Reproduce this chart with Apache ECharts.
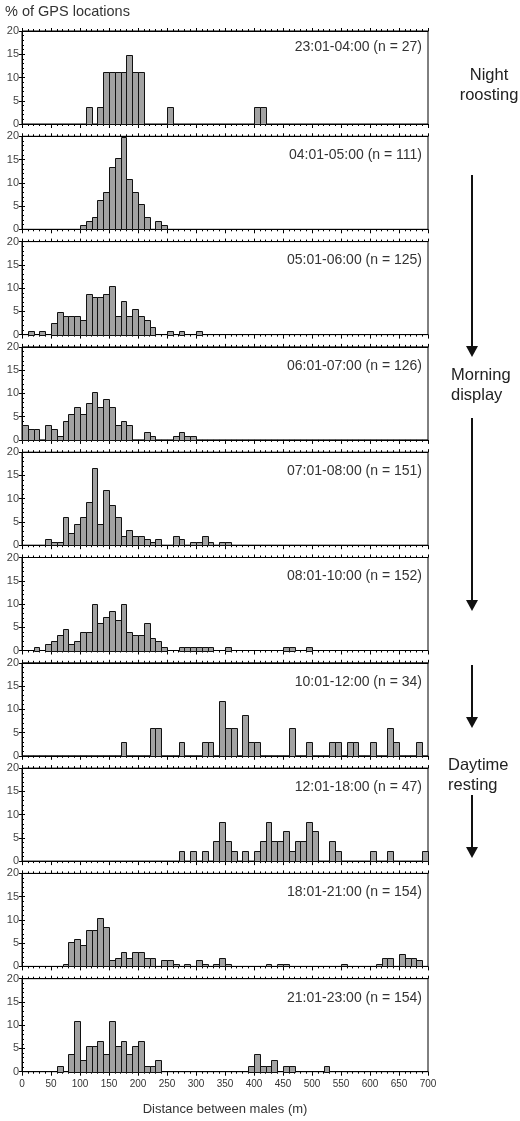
<!DOCTYPE html>
<html lang="en">
<head>
  <meta charset="UTF-8">
  <title>Distance between males</title>
  <script type="text/javascript" src="https://fastly.jsdelivr.net/npm/echarts@6.0.0/dist/echarts.min.js"></script>
  <style>
    html, body, #container {
      width: 100%;
      height: 100%;
      margin: 0;
      padding: 0;
      overflow: hidden;
      background: #fff;
    }
  </style>
</head>
<body>
  <div id="container"></div>

  <script type="text/javascript">

    // histogram bins are 10 m wide, 0..700 m (70 bins), values in % of GPS locations
    var binWidth = 10;

    var panelLabels = [
      '23:01-04:00 (n = 27)',
      '04:01-05:00 (n = 111)',
      '05:01-06:00 (n = 125)',
      '06:01-07:00 (n = 126)',
      '07:01-08:00 (n = 151)',
      '08:01-10:00 (n = 152)',
      '10:01-12:00 (n = 34)',
      '12:01-18:00 (n = 47)',
      '18:01-21:00 (n = 154)',
      '21:01-23:00 (n = 154)'
    ];

    var h2301 = [0,0,0,0,0,0,0,0,0,0, 0,3.7,0,3.7,11.1,11.1,11.1,11.1,14.8,11.1, 11.1,0,0,0,0,3.7,0,0,0,0, 0,0,0,0,0,
                 0,0,0,0,0, 3.7,3.7,0,0,0,0,0,0,0,0, 0,0,0,0,0,0,0,0,0,0, 0,0,0,0,0,0,0,0,0,0];
    var h0401 = [0,0,0,0,0,0,0,0,0,0, 0.9,1.8,2.7,6.3,8.1,13.5,15.3,19.8,10.8,8.1, 5.4,2.7,0,1.8,0.9,0,0,0,0,0, 0,0,0,0,0,
                 0,0,0,0,0, 0,0,0,0,0,0,0,0,0,0, 0,0,0,0,0,0,0,0,0,0, 0,0,0,0,0,0,0,0,0,0];
    var h0501 = [0,0.8,0,0.8,0,2.4,4.8,4.0,4.0,4.0, 3.2,8.8,8.0,8.0,8.8,10.4,4.0,7.2,4.0,5.6, 4.0,3.2,1.6,0,0,0.8,0,0.8,0,0, 0.8,0,0,0,0,
                 0,0,0,0,0, 0,0,0,0,0,0,0,0,0,0, 0,0,0,0,0,0,0,0,0,0, 0,0,0,0,0,0,0,0,0,0];
    var h0601 = [3.2,2.4,2.4,0,3.2,2.4,0.8,4.0,5.6,7.1, 5.6,7.9,10.3,7.1,8.7,7.1,3.2,4.0,3.2,0, 0,1.6,0.8,0,0,0,0.8,1.6,0.8,0.8, 0,0,0,0,0,
                 0,0,0,0,0, 0,0,0,0,0,0,0,0,0,0, 0,0,0,0,0,0,0,0,0,0, 0,0,0,0,0,0,0,0,0,0];
    var h0701 = [0,0,0,0,1.3,0.7,0.7,6.0,2.6,4.6, 6.0,9.3,16.6,4.6,11.9,8.6,6.0,2.0,3.3,2.0, 2.0,1.3,0.7,1.3,0,0,2.0,1.3,0,0.7, 0.7,2.0,0.7,0,0.7,
                 0.7,0,0,0,0, 0,0,0,0,0,0,0,0,0,0, 0,0,0,0,0,0,0,0,0,0, 0,0,0,0,0,0,0,0,0,0];
    var h0801 = [0,0,0.7,0,1.3,2.0,3.3,4.6,1.3,2.0, 3.9,3.9,9.9,5.9,7.2,8.6,6.6,9.9,3.9,3.3, 3.3,5.9,2.6,2.0,0.7,0,0,0.7,0.7,0.7, 0.7,0.7,0.7,0,0,
                 0.7,0,0,0,0, 0,0,0,0,0,0.7,0.7,0,0,0.7, 0,0,0,0,0,0,0,0,0,0, 0,0,0,0,0,0,0,0,0,0];
    var h1001 = [0,0,0,0,0,0,0,0,0,0, 0,0,0,0,0,0,0,2.9,0,0, 0,0,5.9,5.9,0,0,0,2.9,0,0, 0,2.9,2.9,0,11.8,
                 5.9,5.9,0,8.8,2.9, 2.9,0,0,0,0,0,5.9,0,0,2.9, 0,0,0,2.9,2.9,0,2.9,2.9,0,0, 2.9,0,0,5.9,2.9,0,0,0,2.9,0];
    var h1201 = [0,0,0,0,0,0,0,0,0,0, 0,0,0,0,0,0,0,0,0,0, 0,0,0,0,0,0,0,2.1,0,2.1, 0,2.1,0,4.3,8.5,
                 4.3,2.1,0,2.1,0, 2.1,4.3,8.5,4.3,4.3,6.4,2.1,4.3,4.3,8.5, 6.4,0,0,4.3,2.1,0,0,0,0,0, 2.1,0,0,2.1,0,0,0,0,0,2.1];
    var h1801 = [0,0,0,0,0,0,0,0.6,5.2,5.8, 4.5,7.8,7.8,10.4,8.4,1.3,1.9,3.2,1.9,3.2, 3.2,1.9,1.9,0,1.3,1.3,0.6,0,0.6,0, 1.3,0.6,0,0.6,1.9,
                 0.6,0,0,0,0, 0,0,0.6,0,0.6,0.6,0,0,0,0, 0,0,0,0,0,0.6,0,0,0,0, 0,0.6,1.9,1.9,0,2.6,1.9,1.9,1.3,0];
    var h2101 = [0,0,0,0,0,0,1.3,0,3.9,11.0, 2.6,5.5,5.5,6.5,3.9,11.0,5.5,6.5,3.9,5.5, 6.5,1.3,1.3,2.6,0,0,0,0,0,0, 0,0,0,0,0,
                 0,0,0,0,1.3, 3.9,1.3,1.3,2.6,0,1.3,1.3,0,0,0, 0,0,1.3,0,0,0,0,0,0,0, 0,0,0,0,0,0,0,0,0,0];

    var panels = [h2301, h0401, h0501, h0601, h0701, h0801, h1001, h1201, h1801, h2101];

    var FONT = '"Liberation Sans", Arial, sans-serif';
    var gridTop = 31, gridStep = 105.3, gridHeight = 93;

    function renderBar(params, api) {
      var x0 = api.value(0);
      var v = api.value(1);
      var a = api.coord([x0, 0]);
      var b = api.coord([x0 + binWidth, v]);
      return {
        type: 'rect',
        shape: { x: Math.round(a[0]) + 0.5, y: Math.round(b[1]) + 0.5, width: Math.round(b[0]) - Math.round(a[0]), height: Math.round(a[1]) - Math.round(b[1]) },
        style: { fill: '#a2a2a2', stroke: '#111', lineWidth: 1 }
      };
    }

    var grids = [], xAxes = [], yAxes = [], series = [], graphics = [];
    var tickLine = { color: '#000', width: 1 };

    panels.forEach(function (vals, i) {
      var last = i === panels.length - 1;
      grids.push({ left: 22, right: 92, top: gridTop + i * gridStep, height: gridHeight, show: true, borderColor: '#000', borderWidth: 1 });

      xAxes.push({
        gridIndex: i, type: 'value', min: 0, max: 700, interval: 50, position: 'bottom',
        axisLine: { show: true, onZero: false, lineStyle: tickLine },
        axisTick: { show: true, length: 4, lineStyle: tickLine },
        minorTick: { show: true, splitNumber: 5, length: 2, lineStyle: tickLine },
        splitLine: { show: false },
        axisLabel: { show: last, fontFamily: FONT, fontSize: 10, color: '#333', margin: 8 },
        name: last ? 'Distance between males (m)' : '',
        nameLocation: 'middle', nameGap: 31,
        nameTextStyle: { fontFamily: FONT, fontSize: 13, color: '#333' }
      });
      xAxes.push({
        gridIndex: i, type: 'value', min: 0, max: 700, interval: 50, position: 'top',
        axisLine: { show: true, onZero: false, lineStyle: tickLine },
        axisTick: { show: true, length: 3, lineStyle: tickLine },
        minorTick: { show: true, splitNumber: 5, length: 2, lineStyle: tickLine },
        splitLine: { show: false },
        axisLabel: { show: false }
      });
      yAxes.push({
        gridIndex: i, type: 'value', min: 0, max: 20, interval: 5, position: 'left',
        axisLine: { show: true, lineStyle: tickLine },
        axisTick: { show: true, length: 3, lineStyle: tickLine },
        splitLine: { show: false },
        axisLabel: { fontFamily: FONT, fontSize: 11, color: '#444', margin: 3 }
      });
      yAxes.push({
        gridIndex: i, type: 'value', min: 0, max: 20, interval: 5, position: 'right',
        axisLine: { show: true, lineStyle: tickLine },
        axisTick: { show: true, length: 3, lineStyle: tickLine },
        minorTick: { show: true, splitNumber: 5, length: 2, lineStyle: tickLine },
        splitLine: { show: false },
        axisLabel: { show: false }
      });

      var data = [];
      vals.forEach(function (v, k) {
        if (v > 0) data.push([k * binWidth, v]);
      });
      series.push({
        type: 'custom', xAxisIndex: 2 * i, yAxisIndex: 2 * i,
        renderItem: renderBar, data: data, silent: true
      });

      graphics.push({
        type: 'text', right: 98, top: gridTop + i * gridStep + (i === 0 ? 9 : 12),
        style: { text: panelLabels[i], font: '14px ' + FONT, fill: '#333' }
      });
    });

    // heading of the y axis
    graphics.push({ type: 'text', left: 5, top: 4, style: { text: '% of GPS locations', font: '14.5px ' + FONT, fill: '#333' } });

    // activity annotations on the right
    graphics.push({ type: 'text', x: 489, y: 65, style: { text: 'Night\nroosting', font: '16.5px ' + FONT, fill: '#222', lineHeight: 20, align: 'center' } });
    graphics.push({ type: 'text', x: 451, y: 365, style: { text: 'Morning\ndisplay', font: '16.5px ' + FONT, fill: '#222', lineHeight: 20 } });
    graphics.push({ type: 'text', x: 448, y: 755, style: { text: 'Daytime\nresting', font: '16.5px ' + FONT, fill: '#222', lineHeight: 20 } });

    var arrows = [[175, 357], [418, 611], [665, 728], [795, 858]];
    var ax = 472;
    arrows.forEach(function (a) {
      graphics.push({ type: 'line', shape: { x1: ax, y1: a[0], x2: ax, y2: a[1] - 8 }, style: { stroke: '#111', lineWidth: 2 } });
      graphics.push({ type: 'polygon', shape: { points: [[ax - 6, a[1] - 11], [ax + 6, a[1] - 11], [ax, a[1]]] }, style: { fill: '#111' } });
    });

    var myChart = echarts.init(document.getElementById('container'), null, { renderer: 'canvas' });
    myChart.setOption({
      animation: false,
      grid: grids,
      xAxis: xAxes,
      yAxis: yAxes,
      series: series,
      graphic: graphics
    });
  </script>
</body>
</html>
